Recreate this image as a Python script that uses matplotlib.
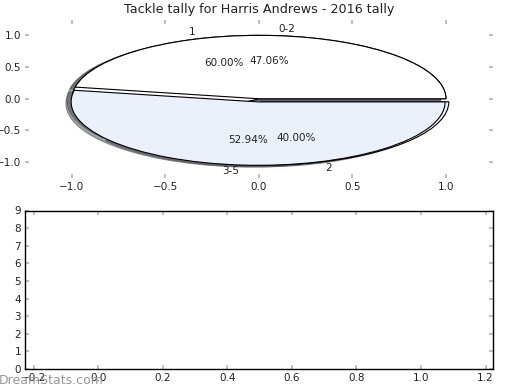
import matplotlib
matplotlib.use('Agg')
import matplotlib.pyplot as plt

# ---- data ----
title = "Tackle tally for Harris Andrews - 2016 tally"
pie1_labels = ['1', '2']
pie1_values = [3, 2]
pie2_labels = ['0-2', '3-5']
pie2_values = [8, 9]
slice_colors = ['#ffffff', '#eaf1fd']
explode = [0, 0.05]
top_xticks = [-1.0, -0.5, 0.0, 0.5, 1.0]
top_yticks = [-1.0, -0.5, 0.0, 0.5, 1.0]
bottom_yticks = list(range(10))
bottom_xticks = [-0.2, 0.0, 0.2, 0.4, 0.6, 0.8, 1.0, 1.2]
watermark = "DreamStats.com"

FS = 7.5
TICK_COLOR = '#b4b4b4'

fig = plt.figure(figsize=(5.2, 3.9), dpi=100)
fig.patch.set_facecolor('white')

ax1 = fig.add_axes([0.0485, 1 - 178 / 390, 0.899, (178 - 19.5) / 390])
ax2 = fig.add_axes([0.0485, 1 - 369 / 390, 0.899, (369 - 210.5) / 390])

common = dict(colors=slice_colors, explode=explode, autopct='%.2f%%',
              shadow=True, startangle=0,
              wedgeprops=dict(edgecolor='black', linewidth=0.8),
              textprops=dict(fontsize=FS, color='#222222'))
ax1.pie(pie1_values, labels=pie1_labels, **common)
ax1.pie(pie2_values, labels=pie2_labels, **common)
ax1.set_aspect('auto')
ax1.set_frame_on(False)
ax1.set_xlim(-1.25, 1.25)
ax1.set_ylim(-1.25, 1.25)
ax1.set_xticks(top_xticks)
ax1.set_yticks(top_yticks)
ax1.set_title(title, fontsize=9.2, color='#222222', pad=5)

for ax in (ax1, ax2):
    ax.tick_params(direction='in', top=True, right=True, length=3, width=1.2,
                   color=TICK_COLOR, labelcolor='#222222', labelsize=FS, pad=3)

ax2.set_xlim(-0.226, 1.222)
ax2.set_ylim(0, 9)
ax2.set_xticks(bottom_xticks)
ax2.set_yticks(bottom_yticks)
for s in ax2.spines.values():
    s.set_color('black')
    s.set_linewidth(1.0)

fig.text(-0.002, 381 / 390 * 0 + 9 / 390, watermark, ha='left', va='center',
         fontsize=9, color='#8c8c8c', alpha=0.9)

fig.savefig('out.png', dpi=100)
